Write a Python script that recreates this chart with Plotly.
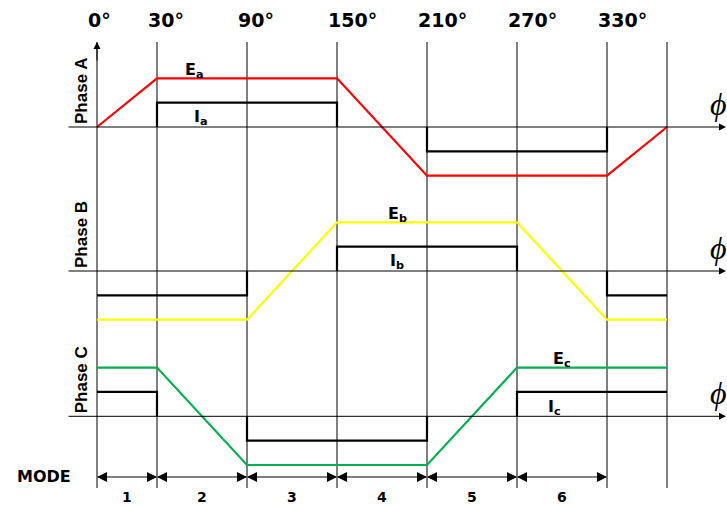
import numpy as np
import plotly.graph_objects as go

# ---------------- data ----------------
ANGLES = [0, 30, 90, 150, 210, 270, 330, 360]
ANGLE_LABELS = ["0°", "30°", "90°", "150°", "210°", "270°", "330°"]
# back-EMF levels at each angle breakpoint
EA = [0, 1, 1, 1, -1, -1, -1, 0]
EB = [-1, -1, -1, 1, 1, 1, -1, -1]
EC = [1, 1, -1, -1, -1, 1, 1, 1]
# phase current level in each sector between breakpoints
IA = [0, 1, 1, 0, -1, -1, 0]
IB = [-1, -1, 0, 1, 1, 0, -1]
IC = [1, 0, -1, -1, 0, 1, 1]
I_LEVEL = 0.5
MODES = ["1", "2", "3", "4", "5", "6"]
PHASES = ["Phase A", "Phase B", "Phase C"]
E_NAMES = ["E<sub>a</sub>", "E<sub>b</sub>", "E<sub>c</sub>"]
I_NAMES = ["I<sub>a</sub>", "I<sub>b</sub>", "I<sub>c</sub>"]

# ---------------- layout constants ----------------
W, H = 727, 506
X0_PX, PX_PER_UNIT = 97, 1.5
DRAW_POS = [0, 40, 100, 160, 220, 280, 340, 380]   # schematic (not-to-scale) positions
BASE_PX = [127, 271, 416.3]                        # baseline pixel rows of each phase
U_PX = 48.7                                        # pixels per unit level
COLORS = ["#FF0000", "#FFFF00", "#00B050"]
YREFS = ["y", "y2", "y3"]


def pos(a):
    return float(np.interp(a, ANGLES, DRAW_POS))


def py(px):  # pixel row -> paper
    return 1 - px / H


def px2x(px):
    return (px - X0_PX) / PX_PER_UNIT


def current_xy(levels):
    xs, ys = [], []
    n = len(levels)
    for i, lv in enumerate(levels):
        if lv == 0:
            continue
        a0, a1 = ANGLES[i], ANGLES[i + 1]
        prev = levels[i - 1] if i > 0 else None
        nxt = levels[i + 1] if i < n - 1 else None
        if prev != lv:
            if xs:
                xs.append(None); ys.append(None)
            if prev is not None:
                xs.append(pos(a0)); ys.append(0)
            xs.append(pos(a0)); ys.append(lv * I_LEVEL)
        xs.append(pos(a1)); ys.append(lv * I_LEVEL)
        if nxt is not None and nxt != lv:
            xs.append(pos(a1)); ys.append(0)
    return xs, ys


fig = go.Figure()

for k, (E, I) in enumerate([(EA, IA), (EB, IB), (EC, IC)]):
    fig.add_trace(go.Scatter(x=[pos(a) for a in ANGLES], y=E, mode="lines",
                             line=dict(color=COLORS[k], width=2.2),
                             yaxis=YREFS[k], hoverinfo="skip", showlegend=False))
    cx, cy = current_xy(I)
    fig.add_trace(go.Scatter(x=cx, y=cy, mode="lines",
                             line=dict(color="black", width=2.2),
                             yaxis=YREFS[k], hoverinfo="skip", showlegend=False,
                             connectgaps=False))

shapes = []
annotations = []

# vertical grid lines
for a in ANGLES:
    shapes.append(dict(type="line", xref="x", yref="paper", x0=pos(a), x1=pos(a),
                       y0=py(488), y1=py(42), line=dict(color="black", width=1),
                       layer="below"))
# vertical arrow at 0 deg
annotations.append(dict(x=pos(0), y=py(42), xref="x", yref="paper", ax=0, ay=20,
                        axref="pixel", ayref="pixel", text="", showarrow=True,
                        arrowhead=2, arrowsize=1.4, arrowwidth=1, arrowcolor="black"))

# top angle labels
for a, lab in zip(ANGLES, ANGLE_LABELS):
    annotations.append(dict(x=pos(a), y=py(20), xref="x", yref="paper", text="<b>%s</b>" % lab,
                            showarrow=False, xanchor="left", yanchor="middle", xshift=-11,
                            font=dict(family="DejaVu Sans", size=19, color="black")))

for k in range(3):
    yr = YREFS[k]
    # horizontal phase axis with arrow
    annotations.append(dict(x=px2x(726), y=0, xref="x", yref=yr, ax=px2x(67), ay=0,
                            axref="x", ayref="pixel", text="", showarrow=True,
                            arrowhead=2, arrowsize=1.4, arrowwidth=1, arrowcolor="black"))
    # phi symbol
    annotations.append(dict(x=px2x(718), y=23 / U_PX, xref="x", yref=yr,
                            text="<i>ϕ</i>", showarrow=False, xanchor="center", yanchor="middle",
                            font=dict(family="Liberation Serif, DejaVu Serif", size=32, color="black")))
    # phase label
    annotations.append(dict(x=px2x(81), y=36 / U_PX, xref="x", yref=yr,
                            text="<b>%s</b>" % PHASES[k], textangle=-90, showarrow=False,
                            xanchor="center", yanchor="middle",
                            font=dict(family="Liberation Sans", size=17, color="black")))

# E / I labels
E_LAB_X = [194, 397, 562]
I_LAB_X = [201, 397, 554]
for k in range(3):
    annotations.append(dict(x=px2x(E_LAB_X[k]), y=1.16, xref="x", yref=YREFS[k],
                            text="<b>%s</b>" % E_NAMES[k], showarrow=False,
                            xanchor="center", yanchor="middle",
                            font=dict(family="DejaVu Sans", size=16, color="black")))
    annotations.append(dict(x=px2x(I_LAB_X[k]), y=0.19, xref="x", yref=YREFS[k],
                            text="<b>%s</b>" % I_NAMES[k], showarrow=False,
                            xanchor="center", yanchor="middle",
                            font=dict(family="DejaVu Sans", size=16, color="black")))

# MODE row
annotations.append(dict(x=px2x(44), y=py(476), xref="x", yref="paper", text="<b>MODE</b>",
                        showarrow=False, xanchor="center", yanchor="middle",
                        font=dict(family="DejaVu Sans", size=16, color="black")))
y_mode = py(477)
for i, m in enumerate(MODES):
    a0, a1 = pos(ANGLES[i]), pos(ANGLES[i + 1])
    shapes.append(dict(type="line", xref="x", yref="paper", x0=a0, x1=a1, y0=y_mode, y1=y_mode,
                       line=dict(color="#808080", width=2)))
    for tip, tail in [(a0, a0 + 7), (a1, a1 - 7)]:
        annotations.append(dict(x=tip, y=y_mode, xref="x", yref="paper", ax=tail, ay=0,
                                axref="x", ayref="pixel", text="", showarrow=True,
                                arrowhead=2, arrowsize=1.0, arrowwidth=2, arrowcolor="black"))
    annotations.append(dict(x=(a0 + a1) / 2, y=py(497), xref="x", yref="paper",
                            text="<b>%s</b>" % m, showarrow=False, xanchor="center",
                            yanchor="middle", font=dict(family="DejaVu Sans", size=14, color="black")))

layout_axes = {}
for k in range(3):
    rng = [-(H - BASE_PX[k]) / U_PX, BASE_PX[k] / U_PX]
    ax = dict(range=rng, visible=False, fixedrange=True, domain=[0, 1])
    if k > 0:
        ax["overlaying"] = "y"
    layout_axes["yaxis" if k == 0 else "yaxis%d" % (k + 1)] = ax

fig.update_layout(
    width=W, height=H, margin=dict(l=0, r=0, t=0, b=0, pad=0),
    paper_bgcolor="white", plot_bgcolor="white",
    xaxis=dict(range=[px2x(0), px2x(W)], visible=False, fixedrange=True),
    shapes=shapes, annotations=annotations, showlegend=False,
    **layout_axes,
)

fig.write_html("out.html", config={"displayModeBar": False},
               post_script="document.body.style.margin='0px';document.body.style.overflow='hidden';")
